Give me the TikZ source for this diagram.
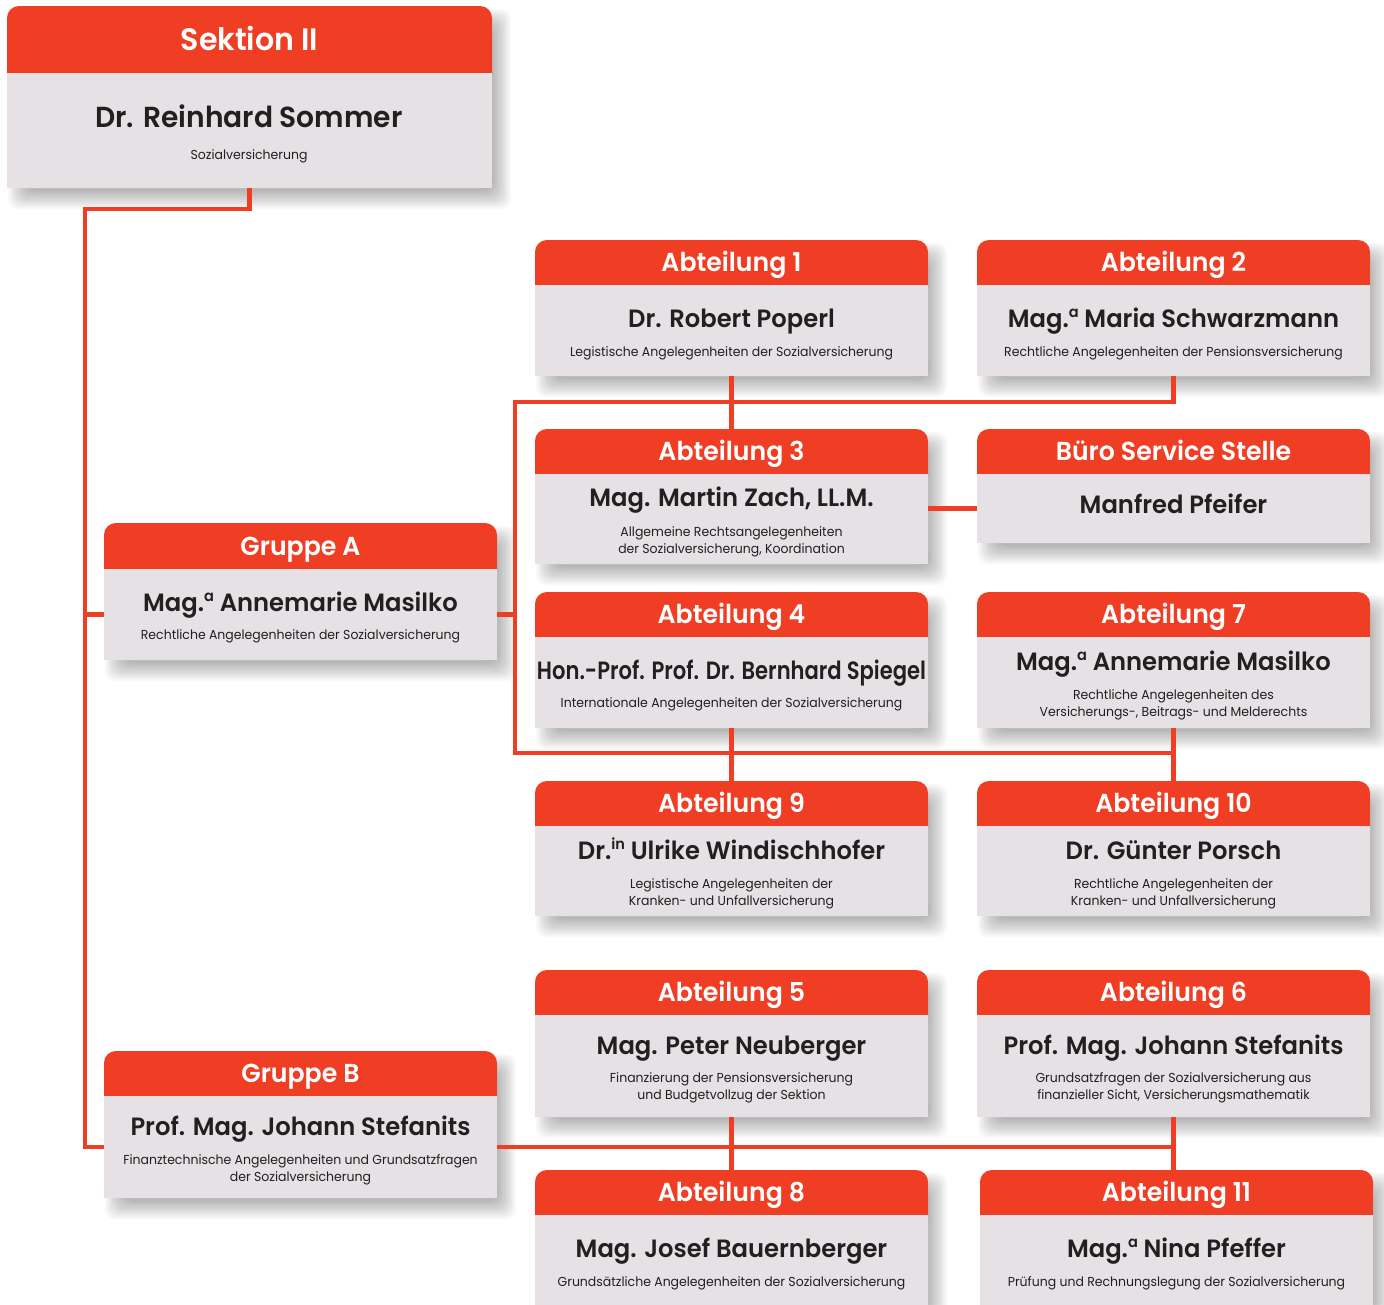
\documentclass[tikz,border=0pt]{standalone}
\usepackage{fontspec}
\setmainfont{Poppins}[FakeStretch=0.96, BoldFont={Poppins SemiBold}, BoldFeatures={FakeStretch=0.97}]
\definecolor{hdrcol}{HTML}{EF3E23}
\definecolor{bodycol}{HTML}{E5E1E5}
\definecolor{txt}{HTML}{231F20}
\newcommand\supx[1]{\raisebox{0.40em}{\fontsize{15}{15}\selectfont #1}}
\tikzset{
 conn/.style={draw=hdrcol, line width=4.5pt},
 hdrtext/.style={text=white, font=\fontsize{26}{31}\selectfont\bfseries, text height=18.5pt, text depth=0pt, inner sep=0pt, outer sep=0pt},
 bodybox/.style={fill=bodycol, inner sep=0pt, outer sep=0pt},
 nametext/.style={text=txt, font=\fontsize{25}{30}\selectfont\bfseries, anchor=base, inner sep=0pt},
 subtext/.style={text=txt, font=\fontsize{13}{17}\selectfont, anchor=base, align=center, inner sep=0pt},
 shadowlayer/.style={fill=black, opacity=0.027, rounded corners=10pt},
}
\newcommand\orgbox[7]{%
 \foreach \i in {-5,...,5}{%
   \fill[shadowlayer] ({#2+10-\i*1.8},{#4+12-\i*1.8}) rectangle ({#3+10+\i*1.8},{#6+12+\i*1.8});}
 \fill[bodycol, rounded corners=12pt] (#2,#6) rectangle (#3,#4);
 \fill[hdrcol, rounded corners=12pt] (#2,#5+14) rectangle (#3,#4);
 \node[hdrtext, minimum width=#3pt-#2pt, minimum height=#5pt-#4pt] (#1h) at ({(#2+#3)/2},{(#4+#5)/2}) {#7};
 \node[bodybox, minimum width=#3pt-#2pt, minimum height=#6pt-#5pt] (#1) at ({(#2+#3)/2},{(#5+#6)/2}) {};
}
\begin{document}
\begin{tikzpicture}[x=1pt,y=-1pt]
\useasboundingbox[fill=white] (0,0) rectangle (1384,1304);
\coordinate (trunkTop) at (85,209);
\coordinate (busTop) at (515,402);
\coordinate (busBot) at (515,753);
% boxes
\begin{scope}[hdrtext/.append style={font=\fontsize{31}{37}\selectfont\bfseries, text height=22pt}]
\orgbox{s2}{7}{492}{6}{73}{188}{Sektion II}
\end{scope}
\orgbox{a1}{535}{928}{240}{285}{376}{Abteilung 1}
\orgbox{a2}{977}{1370}{240}{285}{376}{Abteilung 2}
\orgbox{a3}{535}{928}{429}{474}{564}{Abteilung 3}
\orgbox{bs}{977}{1370}{429}{474}{543}{Büro Service Stelle}
\orgbox{gA}{104}{497}{523}{569}{660}{Gruppe A}
\orgbox{a4}{535}{928}{592}{637}{728}{Abteilung 4}
\orgbox{a7}{977}{1370}{592}{637}{728}{Abteilung 7}
\orgbox{a9}{535}{928}{781}{826}{916}{Abteilung 9}
\orgbox{a10}{977}{1370}{781}{826}{916}{Abteilung 10}
\orgbox{a5}{535}{928}{970}{1015}{1117}{Abteilung 5}
\orgbox{a6}{977}{1370}{970}{1015}{1117}{Abteilung 6}
\orgbox{gB}{104}{497}{1051}{1096}{1198}{Gruppe B}
\orgbox{a8}{535}{928}{1170}{1215}{1330}{Abteilung 8}
\orgbox{a11}{980}{1373}{1170}{1215}{1330}{Abteilung 11}
% connectors
\draw[conn] (s2.south) |- (trunkTop) |- (gB.west);
\draw[conn] (gA.west) -- (gA.west -| trunkTop);
\draw[conn] (gA.east) -| (busTop) -| (a2.south);
\draw[conn] (busTop) -- (busBot) -| (a10h.north);
\draw[conn] (a1.south) -- (a3h.north);
\draw[conn] (a4.south) -- (a9h.north);
\draw[conn] (a7.south) -- (a10h.north);
\draw[conn] (bs.west) -- (bs.west -| a3.east);
\draw[conn] (gB.east) -| (a6.south);
\draw[conn] (a5.south) -- (a8h.north);
\draw[conn] (a6.south) -- (a6.south |- a11h.north);
% texts
\node[nametext, font=\fontsize{29}{35}\selectfont\bfseries] (s2n) at (249,127) {Dr. Reinhard Sommer};
\node[subtext] (s2s) at (249,159) {Sozialversicherung};
\node[nametext] (a1n) at (731.5,327) {Dr. Robert Poperl};
\node[subtext] (a1s) at (731.5,356) {Legistische Angelegenheiten der Sozialversicherung};
\node[nametext] (a2n) at (1173.5,327) {Mag.\supx{a} Maria Schwarzmann};
\node[subtext] (a2s) at (1173.5,356) {Rechtliche Angelegenheiten der Pensionsversicherung};
\node[nametext] (a3n) at (731.5,506) {Mag. Martin Zach, LL.M.};
\node[subtext] (a3s) at (731.5,553) {Allgemeine Rechtsangelegenheiten\\der Sozialversicherung, Koordination};
\node[nametext] (bsn) at (1173.5,513) {Manfred Pfeifer};
\node[nametext] (gAn) at (300.5,611) {Mag.\supx{a} Annemarie Masilko};
\node[subtext] (gAs) at (300.5,639) {Rechtliche Angelegenheiten der Sozialversicherung};
\node[nametext] (a4n) at (731.5,679) {\scalebox{0.87}[1]{Hon.-Prof. Prof. Dr. Bernhard Spiegel}};
\node[subtext] (a4s) at (731.5,707) {Internationale Angelegenheiten der Sozialversicherung};
\node[nametext] (a7n) at (1173.5,670) {Mag.\supx{a} Annemarie Masilko};
\node[subtext] (a7s) at (1173.5,716) {Rechtliche Angelegenheiten des\\Versicherungs-, Beitrags- und Melderechts};
\node[nametext] (a9n) at (731.5,859) {Dr.\supx{in} Ulrike Windischhofer};
\node[subtext] (a9s) at (731.5,905) {Legistische Angelegenheiten der\\Kranken- und Unfallversicherung};
\node[nametext] (a10n) at (1173.5,859) {Dr. Günter Porsch};
\node[subtext] (a10s) at (1173.5,905) {Rechtliche Angelegenheiten der\\Kranken- und Unfallversicherung};
\node[nametext] (a5n) at (731.5,1054) {Mag. Peter Neuberger};
\node[subtext] (a5s) at (731.5,1099) {Finanzierung der Pensionsversicherung\\und Budgetvollzug der Sektion};
\node[nametext] (a6n) at (1173.5,1054) {Prof. Mag. Johann Stefanits};
\node[subtext] (a6s) at (1173.5,1099) {Grundsatzfragen der Sozialversicherung aus\\finanzieller Sicht, Versicherungsmathematik};
\node[nametext] (gBn) at (300.5,1135) {Prof. Mag. Johann Stefanits};
\node[subtext] (gBs) at (300.5,1181) {Finanztechnische Angelegenheiten und Grundsatzfragen\\der Sozialversicherung};
\node[nametext] (a8n) at (731.5,1257) {Mag. Josef Bauernberger};
\node[subtext] (a8s) at (731.5,1286) {Grundsätzliche Angelegenheiten der Sozialversicherung};
\node[nametext] (a11n) at (1176.5,1257) {Mag.\supx{a} Nina Pfeffer};
\node[subtext] (a11s) at (1176.5,1286) {Prüfung und Rechnungslegung der Sozialversicherung};
\end{tikzpicture}
\end{document}
